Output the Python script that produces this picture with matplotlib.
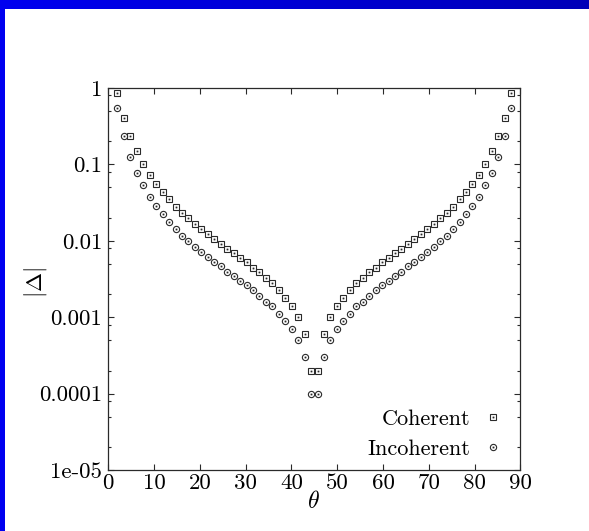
import numpy as np
import matplotlib
matplotlib.use("Agg")
import matplotlib.pyplot as plt
from matplotlib.ticker import LogLocator, NullFormatter, FixedLocator

plt.rcParams['font.family'] = ['cmr10', 'DejaVu Serif']
plt.rcParams['mathtext.fontset'] = 'cm'
plt.rcParams['axes.formatter.use_mathtext'] = True

# angle grid (degrees)
theta = [2.00, 3.41, 4.82, 6.23, 7.64, 9.05, 10.46, 11.87, 13.28, 14.69,
         16.10, 17.51, 18.92, 20.33, 21.74, 23.15, 24.56, 25.97, 27.38, 28.79,
         30.20, 31.61, 33.02, 34.43, 35.84, 37.25, 38.66, 40.07, 41.48, 42.89,
         44.30, 45.70, 47.11, 48.52, 49.93, 51.34, 52.75, 54.16, 55.57, 56.98,
         58.39, 59.80, 61.21, 62.62, 64.03, 65.44, 66.85, 68.26, 69.67, 71.08,
         72.49, 73.90, 75.31, 76.72, 78.13, 79.54, 80.95, 82.36, 83.77, 85.18,
         86.59, 88.00]

coherent = [0.85, 0.41, 0.235, 0.15, 0.102, 0.073, 0.056, 0.0435, 0.035, 0.028,
            0.023, 0.0197, 0.0164, 0.0141, 0.0122, 0.0105, 0.009, 0.0078, 0.0069, 0.0059,
            0.0052, 0.0044, 0.0039, 0.0033, 0.0028, 0.0023, 0.0018, 0.0014, 0.001, 0.0006,
            0.0002,
            0.0002, 0.0006, 0.001, 0.0014, 0.0018, 0.0023, 0.0028, 0.0033, 0.0039, 0.0044,
            0.0052, 0.0059, 0.0069, 0.0078, 0.009, 0.0105, 0.0122, 0.0141, 0.0164, 0.0197,
            0.023, 0.028, 0.035, 0.0435, 0.056, 0.073, 0.102, 0.15, 0.235, 0.41,
            0.85]

incoherent = [0.54, 0.235, 0.126, 0.078, 0.053, 0.038, 0.0285, 0.0222, 0.0175, 0.0141,
              0.0117, 0.0099, 0.0084, 0.0072, 0.0062, 0.0053, 0.0047, 0.0039, 0.0035, 0.003,
              0.0026, 0.0023, 0.0019, 0.0016, 0.0014, 0.0011, 0.0009, 0.0007, 0.0005, 0.0003,
              0.0001,
              0.0001, 0.0003, 0.0005, 0.0007, 0.0009, 0.0011, 0.0014, 0.0016, 0.0019, 0.0023,
              0.0026, 0.003, 0.0035, 0.0039, 0.0047, 0.0053, 0.0062, 0.0072, 0.0084, 0.0099,
              0.0117, 0.0141, 0.0175, 0.0222, 0.0285, 0.038, 0.053, 0.078, 0.126, 0.235,
              0.54]

yticks = [1e-5, 1e-4, 1e-3, 1e-2, 1e-1, 1]
ytick_labels = ['1e-05', '0.0001', '0.001', '0.01', '0.1', '1']
xticks = [0, 10, 20, 30, 40, 50, 60, 70, 80, 90]

W, H = 589, 531
fig = plt.figure(figsize=(W / 100, H / 100), dpi=100)
fig.patch.set_facecolor('white')

# blue frame: gradient bar on top, plain bar at the left
top = fig.add_axes([0, 1 - 9 / H, 1, 9 / H])
grad = np.linspace(0, 1, 256)[None, :]
top.imshow(grad, aspect='auto', cmap=matplotlib.colors.LinearSegmentedColormap.from_list(
    'bar', ['#0000f0', '#0000b8']))
top.axis('off')
side = fig.add_axes([0, 0, 5 / W, 1 - 9 / H])
side.set_facecolor('#0000f0')
side.set_xticks([])
side.set_yticks([])
for s in side.spines.values():
    s.set_visible(False)

ax = fig.add_axes([108.3 / W, 1 - 470 / H, 412 / W, 382 / H])
edge = '#2a2a2a'

sq, = ax.plot(theta, coherent, ls='none', marker='s', ms=4.8, mfc='none', mec=edge, mew=0.8)
sqd, = ax.plot(theta, coherent, ls='none', marker='s', ms=1.0, mfc=edge, mec=edge, mew=0.2)
ci, = ax.plot(theta, incoherent, ls='none', marker='o', ms=4.5, mfc='none', mec=edge, mew=0.8)
cid, = ax.plot(theta, incoherent, ls='none', marker='s', ms=1.0, mfc=edge, mec=edge, mew=0.2)

ax.set_yscale('log')
ax.set_xlim(0, 90)
ax.set_ylim(1e-5, 1)
ax.set_xticks(xticks)
ax.set_xticklabels([str(t) for t in xticks])
ax.yaxis.set_major_locator(FixedLocator(yticks))
ax.set_yticklabels(ytick_labels)
ax.yaxis.set_minor_locator(LogLocator(base=10, subs=(2, 5, 8)))
ax.yaxis.set_minor_formatter(NullFormatter())

ax.tick_params(which='both', direction='in', top=True, right=True, color=edge, width=0.8)
ax.tick_params(which='major', length=4.5, labelsize=16.5)
ax.tick_params(axis='y', which='major', pad=4.5)
ax.tick_params(axis='x', which='major', pad=2.5)
ax.tick_params(which='minor', length=2.3)
for s in ax.spines.values():
    s.set_color(edge)
    s.set_linewidth(0.9)

ax.set_xlabel(r'$\theta$', fontsize=17)
ax.xaxis.set_label_coords(0.497, -0.055)
ax.set_ylabel(r'$|\Delta|$', fontsize=16.5)
ax.yaxis.set_label_coords(-0.143, 0.49)

ax.legend([(sq, sqd), (ci, cid)], ['Coherent', 'Incoherent'], loc='lower right',
          bbox_to_anchor=(0.96, 0.03), frameon=False, markerfirst=False,
          handlelength=1.0, handletextpad=0.5, labelspacing=0.45,
          borderaxespad=0, borderpad=0, fontsize=16)

fig.savefig('out.png', dpi=100, facecolor='white')
